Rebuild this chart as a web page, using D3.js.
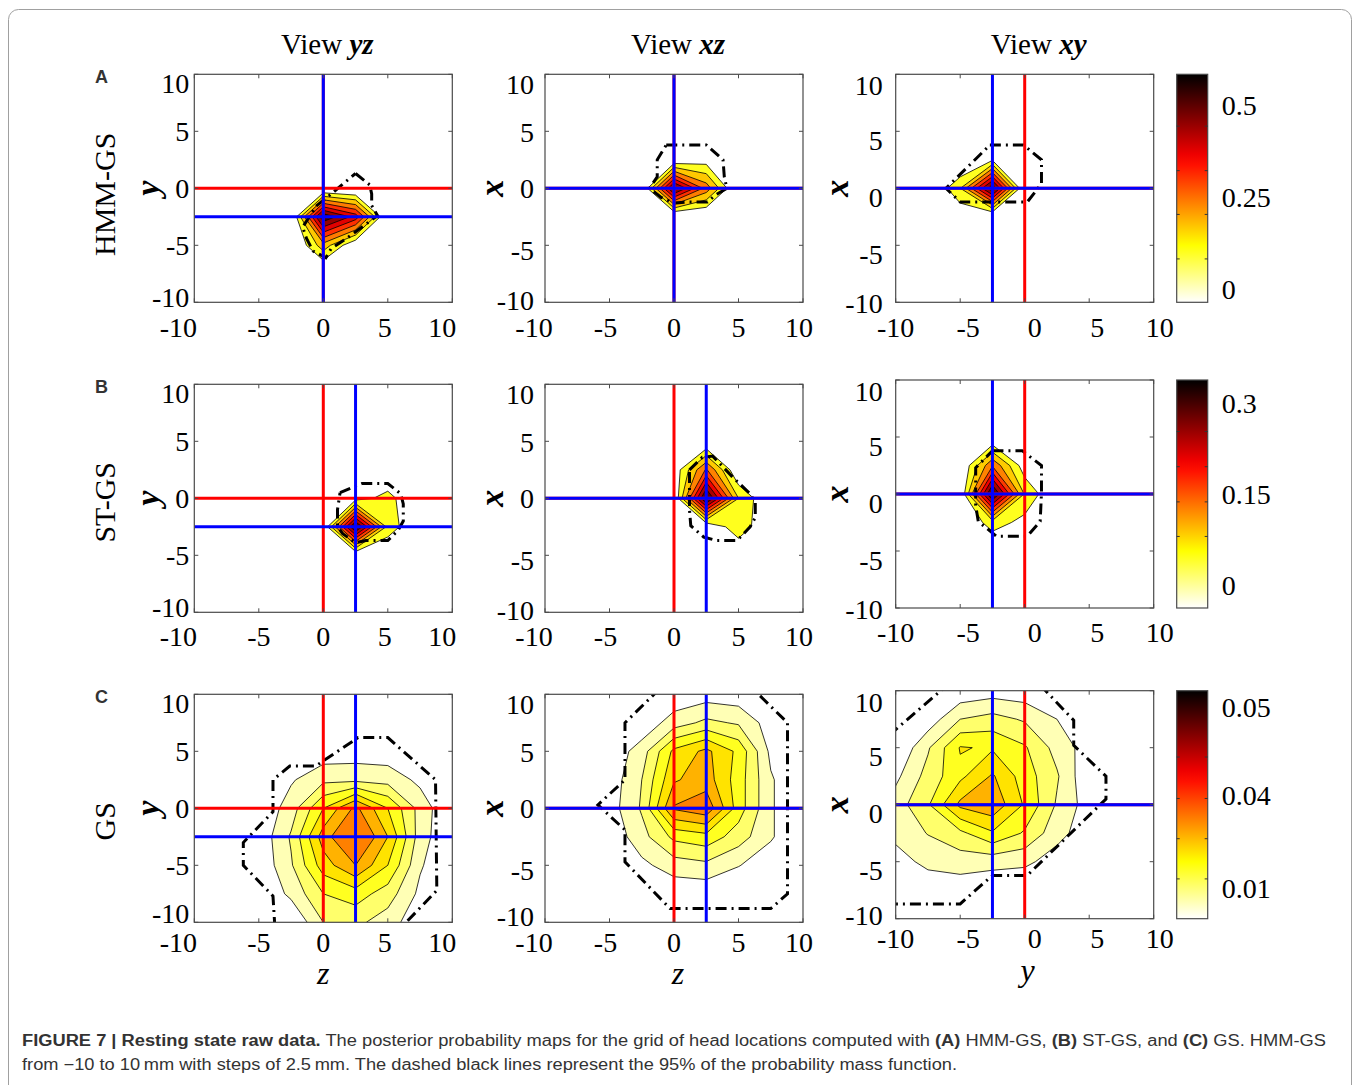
<!DOCTYPE html>
<html><head><meta charset="utf-8">
<script src="https://cdn.jsdelivr.net/npm/d3@7"></script>
<style>
body{margin:0;background:#fff;}
svg text{font-family:"Liberation Serif","Times New Roman",serif;fill:#000;}
.cap{font-family:"Liberation Sans Narrow","Liberation Sans",Arial,sans-serif;fill:#333;font-size:16px;}
</style></head><body>
<svg id="fig" width="1360" height="1085"></svg>
<script>
// ---- data ----
const axisTicks=[-10,-5,0,5,10];
const gridPos=[-10,-7.5,-5,-2.5,0,2.5,5,7.5,10];
const rowLetters=["A","B","C"];
const rowNames=["HMM-GS","ST-GS","GS"];
const viewNames=["yz","xz","xy"];
const hAxis=["z","z","y"], vAxis=["y","x","x"];
const trueX=0, trueY=0, trueZ=0;
const estX=[0,0,0], estY=[-2.5,-2.5,-2.5], estZ=[0,2.5,2.5];

const levelsA=[0.1,0.17,0.24,0.31,0.38,0.45,0.52];
const levelsB=[0.045,0.085,0.125,0.165,0.205,0.245,0.285];
const levelsC=[0.004,0.008,0.012,0.016,0.020,0.024];
const cbDomainA=[-0.035,0.585], cbDomainB=[-0.038,0.338], cbDomainC=[0,0.055];
const cbTicksA=[0,0.25,0.5], cbTicksB=[0,0.15,0.3], cbTicksC=[0.0073,0.0298,0.0511];
const cbLabelsA=["0","0.25","0.5"], cbLabelsB=["0","0.15","0.3"], cbLabelsC=["0.01","0.04","0.05"];
const cbMinorA=[0.083,0.204,0.323,0.444], cbMinorB=[0.08,0.137,0.195,0.253], cbMinorC=[0.0096,0.0193,0.029,0.039];

// posterior grids, rows from +10 (top) to -10, columns from -10 to +10
const gridA_yz=[
[0,0,0,0,0,0,0,0,0],[0,0,0,0,0,0,0,0,0],[0,0,0,0,0,0,0,0,0],[0,0,0,0,0,0,0,0,0],
[0,0,0,0,0.01,0,0,0,0],[0,0,0,0,0.58,0.42,0,0,0],[0,0,0,0,0.21,0.03,0,0,0],
[0,0,0,0,0,0,0,0,0],[0,0,0,0,0,0,0,0,0]];
const gridA_xz=[
[0,0,0,0,0,0,0,0,0],[0,0,0,0,0,0,0,0,0],[0,0,0,0,0,0,0,0,0],[0,0,0,0,0.033,0.066,0,0,0],
[0,0,0,0,0.55,0.28,0,0,0],[0,0,0,0,0,0.01,0,0,0],[0,0,0,0,0,0,0,0,0],
[0,0,0,0,0,0,0,0,0],[0,0,0,0,0,0,0,0,0]];
const gridA_xy=[
[0,0,0,0,0,0,0,0,0],[0,0,0,0,0,0,0,0,0],[0,0,0,0,0,0,0,0,0],[0,0,0,0.09,0,0,0,0,0],
[0,0,0.167,0.58,0.009,0,0,0,0],[0,0,0.038,0,0,0,0,0,0],[0,0,0,0,0,0,0,0,0],
[0,0,0,0,0,0,0,0,0],[0,0,0,0,0,0,0,0,0]];
const gridB_yz=[
[0,0,0,0,0,0,0,0,0],[0,0,0,0,0,0,0,0,0],[0,0,0,0,0,0,0,0,0],[0,0,0,0,0,0,0,0,0],
[0,0,0,0,0,0.026,0.06,0,0],[0,0,0,0,0,0.34,0.07,0,0],[0,0,0,0,0,0,0,0,0],
[0,0,0,0,0,0,0,0,0],[0,0,0,0,0,0,0,0,0]];
const gridB_xz=[
[0,0,0,0,0,0,0,0,0],[0,0,0,0,0,0,0,0,0],[0,0,0,0,0,0,0,0,0],[0,0,0,0,0.015,0.17,0,0,0],
[0,0,0,0,0,0.34,0.085,0,0],[0,0,0,0,0,0,0.075,0,0],[0,0,0,0,0,0,0,0,0],
[0,0,0,0,0,0,0,0,0],[0,0,0,0,0,0,0,0,0]];
const gridB_xy=[
[0,0,0,0,0,0,0,0,0],[0,0,0,0,0,0,0,0,0],[0,0,0,0,0,0,0,0,0],[0,0,0,0.16,0.02,0,0,0,0],
[0,0,0,0.34,0.08,0,0,0,0],[0,0,0,0.065,0.031,0,0,0,0],[0,0,0,0,0,0,0,0,0],
[0,0,0,0,0,0,0,0,0],[0,0,0,0,0,0,0,0,0]];
const gridC_yz=[
[0,0,0,0,0,0,0,0,0],
[0,0,0,0,0,0,0,0,0],
[0,0,0,0,0.0015,0.0018,0.0015,0,0],
[0,0,0,0.0035,0.007,0.007,0.0065,0.003,0],
[0,0,0.0005,0.006,0.016,0.025,0.016,0.0065,0],
[0,0.0003,0.001,0.0085,0.022,0.03,0.02,0.006,0],
[0,0,0.0008,0.0075,0.018,0.024,0.016,0.0045,0],
[0,0,0,0.005,0.012,0.014,0.01,0.003,0],
[0,0,0,0,0.008,0.009,0.006,0.001,0]];
const gridC_xz=[
[0,0,0,0,0.001,0.002,0.0015,0,0],
[0,0,0,0.001,0.006,0.009,0.0075,0.002,0],
[0,0,0.001,0.006,0.017,0.021,0.015,0.003,0],
[0,0,0.0015,0.008,0.0195,0.022,0.014,0.0045,0],
[0,0,0.002,0.0085,0.0245,0.027,0.014,0.0045,0],
[0,0,0.001,0.0065,0.013,0.0145,0.01,0.0045,0],
[0,0,0,0.003,0.006,0.007,0.0042,0.0015,0],
[0,0,0,0,0.001,0.001,0,0,0],
[0,0,0,0,0,0,0,0,0]];
const gridC_xy=[
[0,0,0.001,0.002,0.0015,0.0005,0,0,0],
[0,0.0015,0.008,0.0095,0.0075,0.004,0.001,0,0],
[0,0.0075,0.0163,0.0155,0.0125,0.0065,0.002,0,0],
[0.003,0.0095,0.015,0.0205,0.014,0.0085,0.0005,0,0],
[0.006,0.0115,0.021,0.023,0.0155,0.0075,0.002,0,0],
[0.005,0.0082,0.011,0.0155,0.0115,0.0055,0.0015,0,0],
[0.0025,0.005,0.006,0.0055,0.005,0.002,0,0,0],
[0.001,0.0015,0.0015,0.0005,0,0,0,0,0],
[0,0,0,0,0,0,0,0,0]];

// 95% probability mass outlines [h, v] in mm
const massA_yz=[[[2.5,1.3],[3.6,0.3],[3.75,-0.5],[3.75,-1.5],[4.2,-2.4],[1.8,-4.4],[0.6,-5.3],[0.2,-6.1],[-0.8,-5.5],[-1.3,-4.4],[-1.6,-3.4],[-0.5,-1.5],[0.5,-0.6],[2.5,1.3]]];
const massA_xz=[[[-0.6,3.8],[2.5,3.8],[3.8,2.5],[3.9,1.0],[4.1,0],[3.2,-0.6],[2.6,-1.2],[1.2,-1.2],[0,-1.3],[-1.0,-0.8],[-1.9,0],[-1.3,1.0],[-1.3,2.5],[-0.6,3.8]]];
const massA_xy=[[[-2.7,3.8],[-0.1,3.8],[1.3,2.5],[1.3,0.4],[0.2,-1.2],[-5,-1.2],[-6.1,0],[-2.7,3.8]]];
const massB_yz=[[[1.3,0.5],[3.0,1.3],[5.0,1.3],[6.0,0.4],[6.2,-0.5],[6.2,-2.0],[5.8,-2.8],[5.0,-3.7],[3.3,-3.7],[2.5,-3.9],[1.5,-3.1],[1.1,-2.5],[1.1,-1.0],[1.3,0.5]]];
const massB_xz=[[[1.2,2.5],[2.2,3.6],[3.0,3.7],[4.6,1.8],[5.9,0.4],[6.3,-0.4],[6.3,-1.7],[5.9,-2.5],[4.9,-3.7],[3.3,-3.7],[2.3,-3.4],[1.3,-2.4],[1.2,-1.0],[1.2,2.5]]];
const massB_xy=[[[-2.5,3.8],[-0.2,3.8],[1.3,2.5],[1.3,0.1],[1.2,-2.4],[0.2,-3.7],[-2.2,-3.7],[-3.6,-2.4],[-3.8,-1.0],[-3.8,2.3],[-2.5,3.8]]];
const massC_yz=[[[-3.75,-10.5],[-3.9,-7.7],[-6.2,-5.0],[-6.2,-3.0],[-3.9,-0.3],[-3.9,2.5],[-2.6,3.7],[-0.6,3.7],[2.7,6.2],[5.0,6.2],[8.7,2.5],[8.8,-7.2],[6.0,-10.5]]];
const massC_xz=[[[-1.1,10.5],[-3.8,7.5],[-3.8,2.5],[-5.9,0.3],[-3.8,-1.9],[-3.8,-4.7],[-0.3,-8.8],[7.5,-8.8],[8.8,-7.5],[8.8,7.5],[6.1,10.5]]];
const massC_xy=[[[-10.5,6.1],[-6.0,10.5]],[[1.2,10.5],[3.8,7.4],[3.8,5.2],[6.3,2.5],[6.3,0.5],[0.2,-6.2],[-2.5,-6.2],[-5,-8.7],[-10.5,-8.7]]];

// ---- layout ----
const W=1360,H=1085;
const colLeft=[194.3,545,895.7], panelW=258, panelH=228;
const rowTop=[[74.3,74.3,74.3],[384.3,384.3,380],[694.3,694.3,690.7]];
const cbLeft=1176.7, cbW=31;
const xLabOff=[25,24,20];
const xLabDx=[[-16,0,0,-3,-10],[-11,-4,0,0,-4],[0,8,10,8,6]];
const yLabDy=[[-5,0,0,0,9],[-2,5,0,1,10],[1,9,9,9,11]];
const yLabLastRowDy=-4;
const yLabGap=[5,11,13];
const yNameDx=[-46,-52,-58];
const rowNameDy=[6,4,13];
const titleDx=[4,4,14];
const bottomDx=[0,4,3];

const grids=[[gridA_yz,gridA_xz,gridA_xy],[gridB_yz,gridB_xz,gridB_xy],[gridC_yz,gridC_xz,gridC_xy]];
const masses=[[massA_yz,massA_xz,massA_xy],[massB_yz,massB_xz,massB_xy],[massC_yz,massC_xz,massC_xy]];
const levels=[levelsA,levelsB,levelsC];
const cbDomains=[cbDomainA,cbDomainB,cbDomainC];
const cbTicks=[cbTicksA,cbTicksB,cbTicksC];
const cbLabels=[cbLabelsA,cbLabelsB,cbLabelsC];
const cbMinor=[cbMinorA,cbMinorB,cbMinorC];
const est=[0,1,2].map(r=>({x:estX[r],y:estY[r],z:estZ[r]}));
const truth={x:trueX,y:trueY,z:trueZ};

// flipped "hot" colormap
const hot=d3.scaleLinear().domain([0,0.25,0.625,1]).range(["#ffffff","#ffff00","#ff0000","#000000"]).clamp(true);

const svg=d3.select("#fig");
svg.append("rect").attr("width",W).attr("height",H).attr("fill","#fff");
svg.append("rect").attr("x",8.5).attr("y",9.5).attr("width",W-17).attr("height",H+40)
  .attr("rx",10).attr("fill","none").attr("stroke","#a0a0a0").attr("stroke-width",1);

const defs=svg.append("defs");
const grad=defs.append("linearGradient").attr("id","hotGrad").attr("x1",0).attr("y1",1).attr("x2",0).attr("y2",0);
d3.range(0,1.0001,0.05).forEach(t=>grad.append("stop").attr("offset",t).attr("stop-color",hot(t)));

const gi=d3.scaleLinear().domain([0.5,8.5]).range([gridPos[0],gridPos[8]]);
const gj=d3.scaleLinear().domain([0.5,8.5]).range([gridPos[8],gridPos[0]]);

function drawPanel(r,c){
  const top=rowTop[r][c], left=colLeft[c];
  const g=svg.append("g").attr("transform",`translate(${left},${top})`);
  const xs=d3.scaleLinear().domain([-10,10]).range([0,panelW]);
  const ys=d3.scaleLinear().domain([-10,10]).range([panelH,0]);
  const cs=d3.scaleLinear().domain(cbDomains[r]).range([0,1]);
  const id=`clip${r}${c}`;
  defs.append("clipPath").attr("id",id).append("rect").attr("width",panelW).attr("height",panelH);
  const body=g.append("g").attr("clip-path",`url(#${id})`);

  const vals=grids[r][c].flat();
  const proj=d3.geoPath(d3.geoTransform({point(px,py){this.stream.point(xs(gi(px)),ys(gj(py)));}}));
  const conts=d3.contours().size([9,9]).thresholds(levels[r])(vals);
  body.selectAll("path.band").data(conts).join("path").attr("class","band")
    .attr("d",proj).attr("fill",d=>hot(cs(d.value)))
    .attr("stroke","#000").attr("stroke-width",0.8).attr("stroke-linejoin","round");

  const line=d3.line().x(d=>xs(d[0])).y(d=>ys(d[1]));
  body.selectAll("path.mass").data(masses[r][c]).join("path").attr("class","mass")
    .attr("d",line).attr("fill","none").attr("stroke","#000").attr("stroke-width",3)
    .attr("stroke-dasharray","11,5,2,5");

  const hv=hAxis[c], vv=vAxis[c];
  [[truth,"#ff0000"],[est[r],"#0000ff"]].forEach(([p,col])=>{
    body.append("line").attr("x1",xs(p[hv])).attr("x2",xs(p[hv])).attr("y1",0).attr("y2",panelH)
      .attr("stroke",col).attr("stroke-width",3);
    body.append("line").attr("x1",0).attr("x2",panelW).attr("y1",ys(p[vv])).attr("y2",ys(p[vv]))
      .attr("stroke",col).attr("stroke-width",3);
  });

  g.append("rect").attr("width",panelW).attr("height",panelH).attr("fill","none")
    .attr("stroke","#4a4a4a").attr("stroke-width",1.2);
  axisTicks.forEach(t=>{
    const tl=4;
    g.append("line").attr("x1",xs(t)).attr("x2",xs(t)).attr("y1",panelH).attr("y2",panelH-tl).attr("stroke","#4a4a4a");
    g.append("line").attr("x1",xs(t)).attr("x2",xs(t)).attr("y1",0).attr("y2",tl).attr("stroke","#4a4a4a");
    g.append("line").attr("y1",ys(t)).attr("y2",ys(t)).attr("x1",0).attr("x2",tl).attr("stroke","#4a4a4a");
    g.append("line").attr("y1",ys(t)).attr("y2",ys(t)).attr("x1",panelW).attr("x2",panelW-tl).attr("stroke","#4a4a4a");
  });
  axisTicks.forEach((t,k)=>{
    g.append("text").attr("x",xs(t)+xLabDx[c][k]).attr("y",panelH+xLabOff[r]).attr("dy","0.35em")
      .attr("text-anchor","middle").style("font-size","28px").text(t);
    const extra=(r===2&&k===0)?yLabLastRowDy:0;
    g.append("text").attr("x",-yLabGap[c]).attr("y",ys(t)+yLabDy[c][k]+extra).attr("dy","0.35em")
      .attr("text-anchor","end").style("font-size","28px").text(t);
  });
  g.append("text").attr("transform",`translate(${yNameDx[c]},${panelH/2}) rotate(-90)`)
    .attr("dy","0.3em").attr("text-anchor","middle")
    .style("font-size","34px").style("font-style","italic").style("font-weight","bold").text(vv);
  if(r===2){
    g.append("text").attr("x",panelW/2+bottomDx[c]).attr("y",panelH+62)
      .attr("text-anchor","middle").style("font-size","32px").style("font-style","italic").text(hv);
  }
  if(r===0){
    const t=g.append("text").attr("x",panelW/2+titleDx[c]).attr("y",-20)
      .attr("text-anchor","middle").style("font-size","29px");
    t.append("tspan").text("View ");
    t.append("tspan").style("font-style","italic").style("font-weight","bold").text(viewNames[c]);
  }
}

function drawColorbar(r){
  const top=rowTop[r][2];
  const g=svg.append("g").attr("transform",`translate(${cbLeft},${top})`);
  const ys=d3.scaleLinear().domain(cbDomains[r]).range([panelH,0]);
  g.append("rect").attr("width",cbW).attr("height",panelH).attr("fill","url(#hotGrad)")
    .attr("stroke","#4a4a4a").attr("stroke-width",1.2);
  cbMinor[r].forEach(v=>{
    g.append("line").attr("x1",0).attr("x2",3).attr("y1",ys(v)).attr("y2",ys(v)).attr("stroke","#333");
    g.append("line").attr("x1",cbW).attr("x2",cbW-3).attr("y1",ys(v)).attr("y2",ys(v)).attr("stroke","#333");
  });
  cbTicks[r].forEach((v,k)=>{
    g.append("text").attr("x",cbW+14).attr("y",ys(v)).attr("dy","0.35em")
      .style("font-size","28px").text(cbLabels[r][k]);
  });
}

for(let r=0;r<3;r++){
  for(let c=0;c<3;c++) drawPanel(r,c);
  drawColorbar(r);
  const cy=rowTop[r][0]+panelH/2+rowNameDy[r];
  svg.append("text").attr("transform",`translate(104,${cy}) rotate(-90)`).attr("dy","0.35em")
    .attr("text-anchor","middle").style("font-size","30px").text(rowNames[r]);
  svg.append("text").attr("x",101.5).attr("y",rowTop[r][0]+9).attr("text-anchor","middle")
    .style("font-family","'Liberation Sans',Arial,sans-serif").style("font-weight","bold")
    .style("font-size","18px").style("fill","#333").text(rowLetters[r]);
}

// caption
const cap1=svg.append("text").attr("class","cap").attr("x",22).attr("y",1046)
  .attr("textLength",1304).attr("lengthAdjust","spacingAndGlyphs");
[["FIGURE 7 | Resting state raw data.",1],[" The posterior probability maps for the grid of head locations computed with ",0],
 ["(A)",1],[" HMM-GS, ",0],["(B)",1],[" ST-GS, and ",0],["(C)",1],[" GS. HMM-GS",0]]
 .forEach(([s,b])=>cap1.append("tspan").style("font-weight",b?"bold":"normal").text(s));
svg.append("text").attr("class","cap").attr("x",22).attr("y",1070)
  .attr("textLength",935).attr("lengthAdjust","spacingAndGlyphs")
  .text("from \u221210 to 10\u2009mm with steps of 2.5\u2009mm. The dashed black lines represent the 95% of the probability mass function.");
</script></body></html>
